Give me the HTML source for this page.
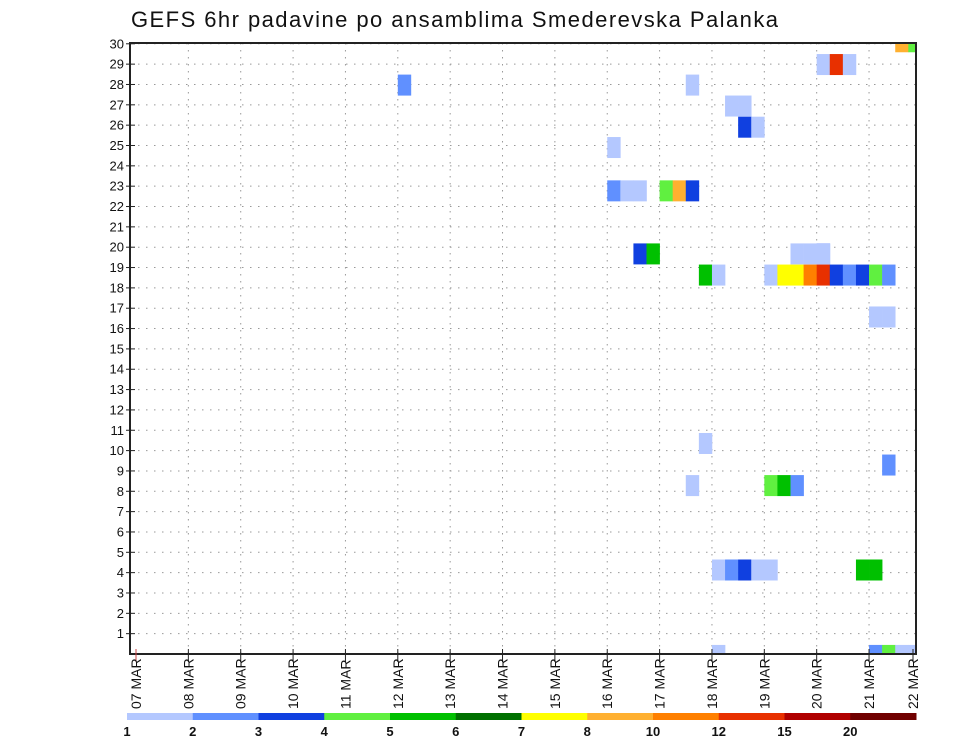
<!DOCTYPE html>
<html><head><meta charset="utf-8"><style>
body{margin:0;background:#fff;}
svg text{font-family:"Liberation Sans","DejaVu Sans",sans-serif;fill:#111;}
</style></head><body>
<svg id="chart" width="960" height="742" viewBox="0 0 960 742" xmlns="http://www.w3.org/2000/svg">
<text x="131" y="27" font-size="22" textLength="647" lengthAdjust="spacing">GEFS 6hr padavine po ansamblima Smederevska Palanka</text>
<g id="grid"></g>
<g id="cells"></g>
<rect x="130" y="43" width="786" height="611" fill="none" stroke="#222" stroke-width="2"/>
<g id="axes"></g>
<g id="cbar"></g>
</svg>
<script>
const dayLabels=["07","08","09","10","11","12","13","14","15","16","17","18","19","20","21","22"];
const yTicks=[1,2,3,4,5,6,7,8,9,10,11,12,13,14,15,16,17,18,19,20,21,22,23,24,25,26,27,28,29,30];
const levelColors=["#b4c8ff","#6090ff","#1040e0","#60f040","#00c000","#007000","#ffff00","#ffb030","#ff8000","#e83000","#b00000","#700000"];
const levelLabels=["1","2","3","4","5","6","7","8","10","12","15","20"];
// cells: day index (from 07 MAR), 6h slot, member position, colour level (1-based)
const cellDay=[14,14,13,13,13,5,10,11,11,11,11,9,9,9,9,10,10,10,12,12,13,9,9,13,13,13,13,13,10,11,12,12,12,12,13,13,13,13,14,14,14,14,10,14,10,12,12,12,11,11,11,11,12,13,14,11,14,14,14,14];
const cellSlot=[2,3,0,1,2,0,2,1,2,2,3,0,0,1,2,0,1,2,2,3,0,2,3,0,0,0,0,0,3,0,0,1,2,3,0,1,2,3,0,1,0,1,3,1,2,0,1,2,0,1,2,3,0,3,0,0,0,1,2,3];
const cellMember=[30.1,30.1,28.98,28.98,28.98,27.97,27.97,26.94,26.94,25.9,25.9,24.9,22.77,22.77,22.77,22.77,22.77,22.77,19.67,19.67,19.67,19.67,19.67,19.67,19.67,19.67,19.67,19.67,18.63,18.63,18.63,18.63,18.63,18.63,18.63,18.63,18.63,18.63,18.63,18.63,16.57,16.57,10.35,9.29,8.28,8.28,8.28,8.28,4.13,4.13,4.13,4.13,4.13,4.13,4.13,-0.07,-0.07,-0.07,-0.07,-0.07];
const cellLevel=[8,4,1,10,1,2,1,1,1,3,1,1,2,1,1,4,8,3,1,1,1,3,5,1,1,1,1,1,5,1,1,7,7,9,10,3,2,3,4,2,1,1,1,2,1,4,5,2,1,2,3,1,1,5,5,1,2,4,1,1];
</script>
<script>
(function(){
const NS="http://www.w3.org/2000/svg";
const X0=136,DAY=52.36,L=130,R=916,T=43,B=654,ROW=20.34;
const xs=d=>X0+d*DAY;
const ys=v=>B-v*ROW;
function mk(t,a,p){const e=document.createElementNS(NS,t);for(const k in a)e.setAttribute(k,a[k]);p.appendChild(e);return e;}
const grid=document.getElementById('grid'),axes=document.getElementById('axes'),cells=document.getElementById('cells'),cbar=document.getElementById('cbar');
yTicks.forEach(v=>{
  const y=ys(v);
  const g=mk('line',{x1:L,x2:R,y1:y,y2:y,stroke:'#999','stroke-width':1,'stroke-dasharray':'1.5 6.5'},grid);
  
  
  const tk=mk('line',{x1:L-4,x2:L+5,y1:y,y2:y,stroke:'#222','stroke-width':1},axes);
  
  
  const t=mk('text',{x:L-6,y:y+4.5,'font-size':13,'text-anchor':'end'},axes);
  t.textContent=v;
  
  
});
dayLabels.forEach((d,i)=>{
  const x=xs(i);
  if(i>0&&i<15){
    const g=mk('line',{x1:x,x2:x,y1:T,y2:B,stroke:'#999','stroke-width':1,'stroke-dasharray':'1.5 5.5'},grid);
    
    
  }
  const tx=Math.min(x,R-3);
  const tk=mk('line',{x1:tx,x2:tx,y1:B-5,y2:B+8,stroke:i==0?'#c44':'#222','stroke-width':1},axes);
  
  
  const t=mk('text',{x:0,y:0,'font-size':14,transform:`translate(${tx+5},${B+55}) rotate(-90)`},axes);
  t.textContent=d+" MAR";
  
  
});
const cw=DAY/4,ch=21;
for(let i=0;i<cellDay.length;i++){
  let x=xs(cellDay[i]+cellSlot[i]/4),w=cw;
  let y=ys(cellMember[i])-ch/2,h=ch;
  if(x+w>R)w=R-x;
  if(y<T){h-=T-y;y=T;}
  if(y+h>B)h=B-y;
  const c=levelColors[cellLevel[i]-1];
  const r=mk('rect',{x:x,y:y,width:w+0.3,height:h,fill:c},cells);
  
  
}
const cx0=127,cx1=916,seg=(cx1-cx0)/levelColors.length;
levelColors.forEach((c,i)=>{
  const r=mk('rect',{x:cx0+i*seg,y:713,width:seg+0.5,height:7,fill:c},cbar);
  
  
  const t=mk('text',{x:cx0+i*seg,y:736,'font-size':13,'text-anchor':'middle','font-weight':'bold'},cbar);
  t.textContent=levelLabels[i];
  
  
});
})();
</script>
</body></html>
